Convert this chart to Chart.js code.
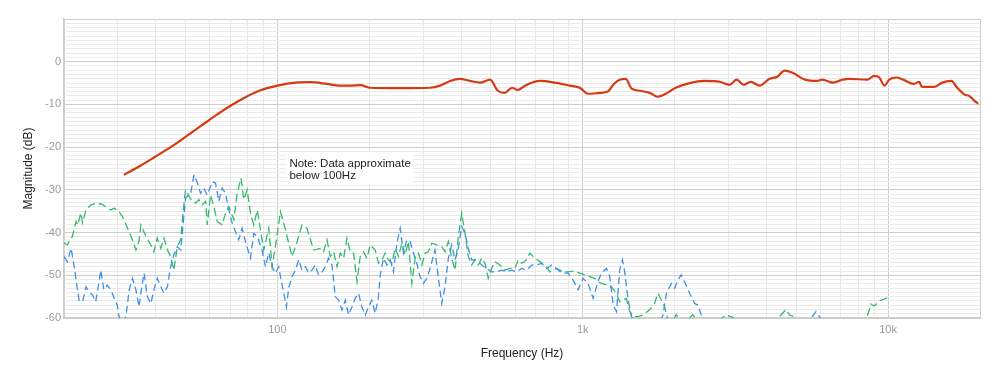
<!DOCTYPE html>
<html>
<head>
<meta charset="utf-8">
<script src="https://cdn.jsdelivr.net/npm/chart.js@4/dist/chart.umd.min.js"></script>
<style>
  html, body { margin: 0; padding: 0; background: #fff; }
  #wrap { width: 1000px; height: 387px; }
</style>
</head>
<body>
<div id="wrap"><canvas id="freqChart" width="1000" height="387"></canvas></div>
<script>
// Response curve (solid red)
const redFreq = [31.4, 35.7, 39.9, 44.7, 50, 56, 62.7, 70.2, 78.6, 88, 100, 114.5, 128.2, 145, 160, 173, 187, 201, 252, 316, 341, 368, 396, 427, 461, 497, 527, 555, 587, 613, 647, 724, 810, 907, 978, 1038, 1137, 1208, 1264, 1322, 1383, 1446, 1537, 1657, 1760, 1870, 2015, 2239, 2507, 2806, 3026, 3190, 3370, 3550, 3792, 4089, 4340, 4580, 4870, 5340, 5850, 6080, 6620, 7090, 7470, 8550, 9010, 9360, 9730, 10090, 10640, 11210, 12120, 12650, 12900, 14180, 15030, 16100, 16850, 17800, 18430, 19140, 19730];
const redDb = [-26.5, -24.3, -22.2, -20.0, -17.6, -15.1, -12.6, -10.3, -8.3, -6.7, -5.6, -4.9, -4.8, -5.2, -5.6, -5.6, -5.5, -6.1, -6.2, -6.1, -5.6, -4.5, -4.0, -4.5, -4.9, -4.2, -6.8, -7.3, -6.1, -6.6, -5.6, -4.5, -4.9, -5.6, -6.1, -7.5, -7.3, -7.0, -5.2, -4.2, -4.0, -6.3, -6.8, -7.3, -8.2, -7.5, -6.1, -5.0, -4.5, -4.7, -5.4, -4.2, -5.4, -4.7, -5.6, -4.0, -3.5, -2.1, -2.6, -4.2, -4.5, -4.2, -4.9, -4.2, -4.0, -4.2, -3.3, -3.7, -5.6, -4.2, -3.7, -4.2, -5.2, -4.7, -5.9, -5.9, -4.9, -4.5, -6.1, -7.7, -8.0, -9.1, -9.8];

// Green dashed series
const greenFreq = [20, 20.5, 21.3, 21.9, 22.2, 22.7, 23.0, 23.6, 24.5, 25.7, 26.7, 27.8, 28.5, 29.2, 30.3, 31.1, 32.3, 33.5, 34.4, 35.2, 35.7, 37.1, 38.5, 39.4, 40.4, 41.5, 42.5, 43.6, 44.7, 45.8, 47.0, 48.2, 49.2, 50.0, 51.3, 52.6, 54.0, 55.3, 56.7, 58.2, 58.9, 60.4, 61.9, 63.5, 65.9, 67.6, 69.3, 72.0, 73.8, 76.0, 77.6, 79.6, 81.6, 83.7, 85.9, 88.0, 90.2, 93.7, 96.1, 98.5, 102.3, 104.9, 108.9, 111.7, 116.0, 120.4, 125.0, 131.4, 138.2, 141.7, 145.3, 149.0, 152.8, 156.7, 160.7, 164.7, 169.0, 173.2, 177.6, 182.2, 186.7, 191.4, 196.4, 201.4, 209.1, 214.3, 219.8, 225.4, 231.1, 237.1, 243.0, 249.2, 255.6, 262.0, 268.6, 275.5, 282.5, 289.6, 297.1, 304.6, 312.2, 320.3, 332.6, 345.3, 354.0, 362.9, 372.3, 381.7, 391.3, 401.4, 411.5, 421.9, 432.8, 443.7, 454.9, 466.7, 478.4, 490.4, 503.0, 515.7, 535.5, 556.0, 577.4, 599.6, 614.7, 630.6, 646.5, 671.3, 697.0, 723.7, 761.0, 780.2, 820.4, 862.2, 895.2, 941.6, 977.6, 1015, 1054, 1094, 1122, 1151, 1196, 1241, 1289, 1321, 1354, 1389, 1425, 1460, 1516, 1574, 1656, 1719, 1762, 1808, 1854, 1900, 1960, 2025, 2077, 2180, 2288, 2350, 2600, 2949, 3090, 3500, 4200, 4409, 4631, 4753, 4934, 5300, 6500, 8300, 8681, 8777, 9010, 9359, 9829, 10000];
const greenDb = [-42.4, -42.9, -40.9, -37.4, -38.2, -35.4, -37.7, -34.7, -33.5, -33.1, -33.4, -34.3, -34.7, -34.3, -35.1, -36.3, -39.0, -41.7, -44.1, -42.1, -38.2, -40.9, -42.9, -44.5, -41.3, -43.7, -41.3, -44.0, -45.6, -48.8, -43.3, -41.7, -34.7, -30.0, -31.4, -32.7, -33.1, -32.3, -33.5, -32.7, -38.2, -31.2, -33.9, -37.4, -38.2, -35.5, -33.9, -37.0, -30.8, -27.3, -32.3, -30.0, -35.5, -38.2, -34.7, -39.4, -44.1, -39.0, -48.0, -43.3, -35.1, -37.8, -42.5, -45.6, -42.1, -38.2, -39.0, -44.1, -43.7, -44.5, -41.7, -45.6, -44.5, -48.0, -44.8, -46.0, -41.3, -44.5, -44.8, -51.5, -45.6, -44.5, -46.0, -42.9, -44.1, -47.2, -46.4, -44.8, -46.4, -47.2, -43.7, -45.6, -42.5, -45.2, -42.1, -51.9, -46.0, -44.8, -47.6, -44.8, -44.5, -42.5, -42.9, -43.3, -44.5, -42.1, -46.0, -48.8, -40.9, -35.5, -40.2, -45.6, -47.6, -46.4, -47.6, -46.0, -47.2, -50.7, -48.4, -46.8, -47.6, -48.8, -48.4, -48.4, -46.4, -47.2, -46.8, -44.8, -46.0, -46.8, -48.0, -49.2, -48.4, -49.2, -49.2, -49.0, -49.5, -49.9, -50.3, -50.7, -51.5, -51.9, -52.3, -52.7, -54.2, -56.2, -55.8, -55.4, -58.5, -59.7, -59.7, -59.3, -58.1, -56.6, -54.2, -55.8, -57.4, -60.3, -61.0, -59.2, -60.4, -61.0, -59.2, -60.3, -62.0, -59.3, -59.8, -62.5, -61.5, -59.7, -58.0, -59.3, -59.7, -62.0, -64.0, -62.0, -58.1, -56.7, -57.2, -56.0, -55.4, -55.3];

// Blue dashed series
const blueFreq = [20, 20.5, 21.1, 21.6, 21.9, 22.4, 23.0, 23.6, 24.1, 24.8, 25.4, 26.0, 26.4, 27.0, 27.7, 28.5, 29.2, 29.9, 30.3, 31.1, 31.9, 32.7, 33.5, 34.4, 35.2, 36.1, 36.6, 37.5, 38.5, 39.4, 40.4, 41.5, 42.5, 43.6, 44.7, 45.8, 47.0, 48.2, 48.8, 50.0, 52.0, 53.3, 54.7, 56.0, 57.4, 58.9, 61.2, 62.7, 64.3, 65.9, 67.6, 69.3, 71.1, 72.9, 74.7, 76.6, 78.6, 81.6, 83.7, 85.9, 89.1, 91.4, 93.7, 96.1, 98.5, 101.0, 102.3, 104.9, 107.0, 108.9, 111.7, 114.5, 117.4, 120.4, 123.5, 126.6, 129.8, 133.1, 136.4, 140.0, 143.5, 147.1, 150.9, 154.7, 158.6, 162.7, 166.8, 171.0, 175.4, 179.8, 184.4, 189.1, 193.9, 198.8, 203.8, 209.1, 214.3, 217.1, 222.6, 228.3, 234.1, 240.0, 246.1, 252.4, 258.8, 265.3, 272.0, 278.9, 286.0, 293.3, 300.7, 308.5, 316.2, 328.0, 336.3, 345.3, 354.0, 362.9, 372.3, 381.7, 391.3, 401.4, 411.5, 421.9, 432.8, 443.7, 454.9, 466.7, 484.6, 503.0, 522.4, 542.4, 563.3, 584.8, 607.3, 630.6, 654.9, 680.0, 706.2, 733.3, 761.6, 790.8, 821.2, 852.8, 895.2, 929.6, 965.4, 1002, 1041, 1081, 1122, 1151, 1196, 1226, 1258, 1290, 1321, 1349, 1372, 1408, 1444, 1481, 1600, 1750, 1832, 1880, 1951, 2000, 2049, 2102, 2155, 2239, 2327, 2386, 2444, 2475, 2700, 4000, 5400, 5803, 5958, 6300, 8000];
const blueDb = [-45.6, -46.8, -43.7, -48.0, -51.1, -55.8, -56.2, -52.7, -53.8, -54.6, -56.2, -51.9, -48.8, -53.4, -52.3, -53.4, -55.4, -57.0, -59.7, -61.2, -59.7, -53.4, -50.7, -53.4, -57.4, -51.9, -49.5, -55.0, -56.6, -53.4, -50.7, -52.7, -54.2, -52.7, -48.0, -45.2, -43.3, -44.1, -40.2, -31.9, -30.8, -26.5, -28.4, -30.8, -29.6, -31.2, -28.1, -28.4, -32.7, -29.6, -30.8, -34.7, -37.8, -39.8, -41.7, -39.0, -42.1, -46.0, -40.2, -40.9, -44.1, -48.0, -44.8, -48.0, -49.5, -48.0, -50.3, -54.2, -57.4, -53.0, -50.3, -48.8, -46.4, -48.8, -48.0, -49.5, -48.8, -47.6, -49.9, -49.2, -48.0, -46.0, -47.6, -55.0, -55.8, -58.1, -55.8, -59.3, -57.4, -55.4, -54.2, -57.4, -59.3, -57.4, -55.8, -58.9, -55.0, -49.9, -46.0, -47.6, -46.4, -49.2, -42.5, -39.0, -44.8, -41.7, -42.1, -44.8, -47.2, -50.3, -51.9, -50.7, -48.4, -44.1, -50.3, -56.6, -52.7, -46.0, -42.9, -46.4, -43.7, -38.6, -40.2, -43.7, -46.4, -46.4, -46.8, -47.6, -48.4, -49.2, -49.2, -48.8, -49.2, -48.8, -49.2, -48.4, -48.8, -47.6, -47.6, -47.2, -48.4, -47.6, -48.4, -49.5, -49.5, -51.1, -53.4, -50.7, -51.9, -55.4, -51.5, -49.5, -48.4, -50.3, -57.0, -58.5, -48.8, -46.4, -49.2, -55.8, -59.7, -60.5, -63.0, -62.0, -59.3, -54.2, -51.9, -53.0, -51.1, -49.9, -51.5, -54.2, -56.6, -57.0, -59.3, -60.0, -63.0, -65.0, -61.5, -58.5, -59.7, -62.0, -64.0];

// Axis ticks
const xGridTicks = [20, 30, 40, 50, 60, 70, 80, 90, 100, 200, 300, 400, 500, 600, 700, 800, 900, 1000, 2000, 3000, 4000, 5000, 6000, 7000, 8000, 9000, 10000, 20000];
const xLabelValues = [100, 1000, 10000];
const xLabelTexts = ["100", "1k", "10k"];
const xMajorLines = [20, 100, 1000, 10000, 20000];

const noteLines = ["Note: Data approximate", "below 100Hz"];
const noteAnchor = { freq: 107, db: -21.3 };

function toPoints(xs, ys) {
  return xs.map((x, i) => ({ x: x, y: ys[i] }));
}

// Draws the note box on top of the plot
const notePlugin = {
  id: "note",
  afterDatasetsDraw(chart) {
    const c = chart.ctx;
    const x = chart.scales.x.getPixelForValue(noteAnchor.freq);
    const y = chart.scales.y.getPixelForValue(noteAnchor.db);
    c.save();
    c.font = '11.5px "Liberation Sans", Arial, sans-serif';
    const w = Math.max(...noteLines.map(t => c.measureText(t).width)) + 6;
    c.fillStyle = "#ffffff";
    c.fillRect(x, y, w, 31);
    c.fillStyle = "#222222";
    c.textBaseline = "alphabetic";
    noteLines.forEach((t, i) => c.fillText(t, x + 3, y + 14 + i * 12.7));
    c.restore();
  }
};

const ctx = document.getElementById("freqChart").getContext("2d");

new Chart(ctx, {
  type: "line",
  data: {
    datasets: [
      {
        data: toPoints(blueFreq, blueDb),
        borderColor: "#3d8fe8",
        borderWidth: 1.3,
        borderDash: [7, 4],
        pointRadius: 0,
        tension: 0,
        clip: 0
      },
      {
        data: toPoints(greenFreq, greenDb),
        borderColor: "#33b96c",
        borderWidth: 1.3,
        borderDash: [8, 4],
        pointRadius: 0,
        tension: 0,
        clip: 0
      },
      {
        data: toPoints(redFreq, redDb),
        borderColor: "#d53a12",
        borderWidth: 2.2,
        pointRadius: 0,
        cubicInterpolationMode: "monotone",
        clip: 0
      }
    ]
  },
  options: {
    responsive: false,
    animation: false,
    devicePixelRatio: 1,
    layout: { padding: { top: 19, right: 20, left: 0, bottom: 0 } },
    plugins: {
      legend: { display: false },
      tooltip: { enabled: false }
    },
    scales: {
      x: {
        type: "logarithmic",
        min: 20,
        max: 20000,
        afterBuildTicks: scale => {
          scale.ticks = xGridTicks.map(v => ({ value: v }));
        },
        afterFit: scale => { scale.height = 69; },
        ticks: {
          autoSkip: false,
          maxRotation: 0,
          padding: 5,
          color: "#9a9a9a",
          font: { family: '"Liberation Sans", Arial, sans-serif', size: 11 },
          callback: v => {
            const i = xLabelValues.indexOf(v);
            return i >= 0 ? xLabelTexts[i] : "";
          }
        },
        grid: {
          drawTicks: false,
          lineWidth: 1,
          color: c => xMajorLines.includes(c.tick.value) ? "#cdcdcd" : "#e8e8e8"
        },
        border: { color: "#cdcdcd", width: 1.5 },
        title: {
          display: true,
          text: "Frequency (Hz)",
          color: "#222222",
          font: { family: '"Liberation Sans", Arial, sans-serif', size: 12 },
          padding: { top: 0, bottom: 26 }
        }
      },
      y: {
        min: -60,
        max: 10,
        afterFit: scale => { scale.width = 64; },
        ticks: {
          stepSize: 1,
          autoSkip: false,
          padding: 3,
          color: "#9a9a9a",
          font: { family: '"Liberation Sans", Arial, sans-serif', size: 11 },
          callback: v => (v % 10 === 0 && v <= 0) ? String(v) : ""
        },
        grid: {
          drawTicks: false,
          lineWidth: 1,
          color: c => c.tick.value % 10 === 0 ? "#cdcdcd" : "#ebebeb"
        },
        border: { color: "#cdcdcd", width: 1.5 },
        title: {
          display: true,
          text: "Magnitude (dB)",
          color: "#222222",
          font: { family: '"Liberation Sans", Arial, sans-serif', size: 12 },
          padding: { top: 21, bottom: 0 }
        }
      }
    }
  },
  plugins: [notePlugin]
});
</script>
</body>
</html>
